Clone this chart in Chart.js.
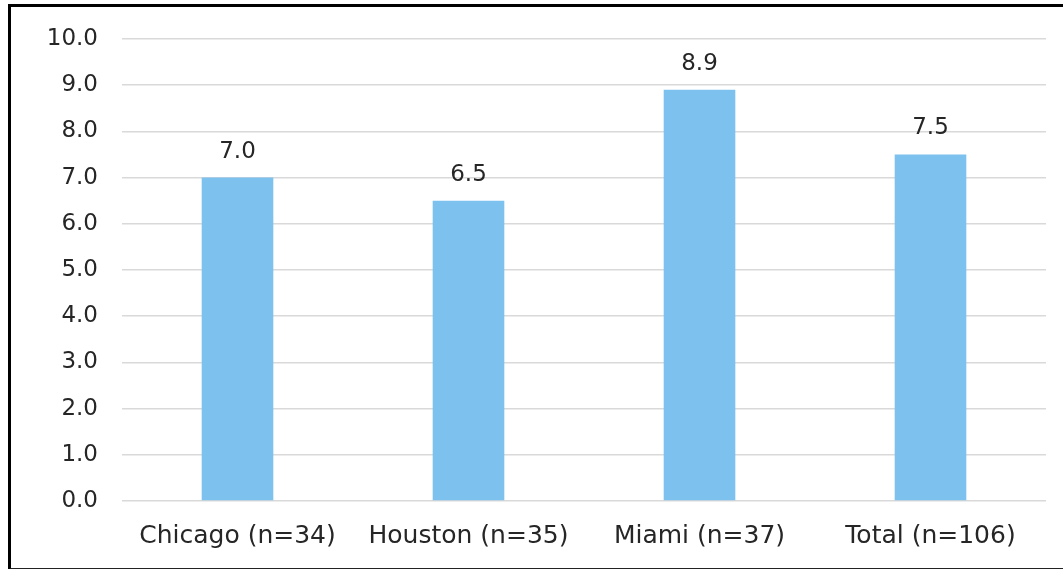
<!DOCTYPE html>
<html>
<head>
<meta charset="utf-8">
<script src="https://cdn.jsdelivr.net/npm/chart.js@4/dist/chart.umd.min.js"></script>
<style>
  html, body { margin: 0; padding: 0; background: #fff; overflow: hidden; }
  #wrap { position: absolute; left: 0; top: 0; width: 1063px; height: 569px; }
  #frame {
    position: absolute; left: 8px; top: 4px; width: 1070px; height: 561px;
    border-left: 3px solid #000; border-top: 3px solid #000; border-bottom: 2px solid #222;
    pointer-events: none;
  }
</style>
</head>
<body>
<div id="wrap">
  <canvas id="c" width="1063" height="569"></canvas>
  <div id="frame"></div>
</div>
<script>
const categories = ['Chicago (n=34)', 'Houston (n=35)', 'Miami (n=37)', 'Total (n=106)'];
const values = [7.0, 6.5, 8.9, 7.5];
const yTicks = [0, 1, 2, 3, 4, 5, 6, 7, 8, 9, 10];

const FONT = "'DejaVu Sans', sans-serif";
const TEXT = '#262626';

// value printed above each bar
const valueLabels = {
  id: 'valueLabels',
  afterDatasetsDraw(chart) {
    const { ctx } = chart;
    const meta = chart.getDatasetMeta(0);
    ctx.save();
    ctx.font = '23px ' + FONT;
    ctx.fillStyle = TEXT;
    ctx.textAlign = 'center';
    ctx.textBaseline = 'middle';
    meta.data.forEach((bar, i) => {
      ctx.fillText(values[i].toFixed(1), bar.x, bar.y - 26);
    });
    ctx.restore();
  }
};

new Chart(document.getElementById('c'), {
  type: 'bar',
  data: {
    labels: categories,
    datasets: [{
      data: values,
      backgroundColor: '#7dc1ee',
      borderWidth: 0,
      categoryPercentage: 1,
      barPercentage: 0.31
    }]
  },
  options: {
    responsive: false,
    animation: false,
    layout: { padding: { top: 39, right: 17, bottom: 0, left: 0 } },
    plugins: { legend: { display: false }, tooltip: { enabled: false } },
    scales: {
      x: {
        afterFit(scale) { scale.height = 68; },
        grid: { display: false, drawTicks: false },
        border: { display: false },
        ticks: { font: { family: FONT, size: 25 }, color: TEXT, padding: 20 }
      },
      y: {
        min: 0, max: 10,
        afterFit(scale) { scale.width = 122; },
        afterBuildTicks(scale) { scale.ticks = yTicks.map(v => ({ value: v })); },
        grid: { color: '#d9d9d9', lineWidth: 1.5, drawTicks: false },
        border: { display: false },
        ticks: {
          font: { family: FONT, size: 23 }, color: TEXT, padding: 24,
          callback: v => Number(v).toFixed(1)
        }
      }
    }
  },
  plugins: [valueLabels]
});
</script>
</body>
</html>
